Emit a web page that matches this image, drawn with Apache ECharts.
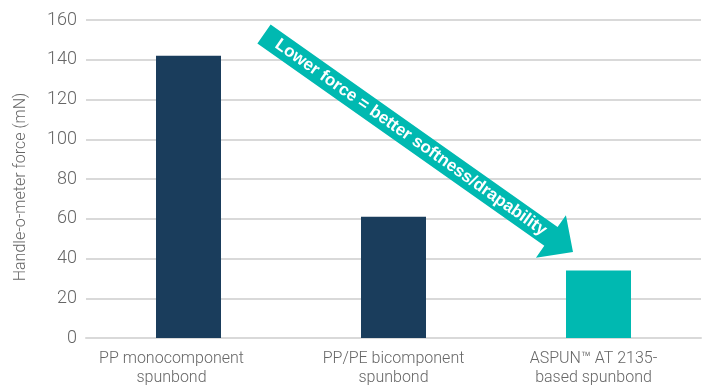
<!DOCTYPE html>
<html>
<head>
<meta charset="utf-8">
<script src="https://cdn.jsdelivr.net/npm/echarts@6/dist/echarts.min.js"></script>
<style>
html,body{margin:0;padding:0;background:#fff;}
#chart{width:710px;height:387px;}
</style>
</head>
<body>
<div id="chart"></div>
<script>
const categories = ['PP monocomponent\nspunbond', 'PP/PE bicomponent\nspunbond', 'ASPUN\u2122 AT 2135-\nbased spunbond'];
const values = [142, 61, 34];
const barColors = ['#1a3d5c', '#1a3d5c', '#00b9b1'];
const yTicks = [0, 20, 40, 60, 80, 100, 120, 140, 160];
const yTitle = 'Handle-o-meter force (mN)';
const arrowText = 'Lower force = better softness/drapability';
const labelPadRight = [34, 0, 10];

const chart = echarts.init(document.getElementById('chart'), null, {renderer: 'canvas'});
const font = 'Roboto, Liberation Sans, Arial, sans-serif';

// arrow annotation geometry
const S = [264, 34], T = [573, 252];
const dx = T[0]-S[0], dy = T[1]-S[1];
const L = Math.sqrt(dx*dx+dy*dy);
const u = [dx/L, dy/L], n = [-u[1], u[0]];
const bw = 11.5, hw = 26, hl = 27;
const B = [S[0]+u[0]*(L-hl), S[1]+u[1]*(L-hl)];
const pts = [
  [S[0]-n[0]*bw, S[1]-n[1]*bw],
  [B[0]-n[0]*bw, B[1]-n[1]*bw],
  [B[0]-n[0]*hw, B[1]-n[1]*hw],
  T,
  [B[0]+n[0]*hw, B[1]+n[1]*hw],
  [B[0]+n[0]*bw, B[1]+n[1]*bw],
  [S[0]+n[0]*bw, S[1]+n[1]*bw]
];
const mid = [S[0]+u[0]*((L-hl)/2+4), S[1]+u[1]*((L-hl)/2+4)];
const ang = Math.atan2(dy, dx);

chart.setOption({
  animation: false,
  grid: {left: 86, right: 9, top: 20, bottom: 49, containLabel: false},
  xAxis: {
    type: 'category',
    data: categories.map((c, i) => ({value: c, textStyle: {padding: [0, labelPadRight[i], 0, 0]}})),
    axisLine: {show: true, lineStyle: {color: '#d9d9d9', width: 2}},
    axisTick: {show: false},
    axisLabel: {color: '#666', fontFamily: font, fontWeight: 300, fontSize: 16, lineHeight: 19, margin: 11}
  },
  yAxis: {
    type: 'value',
    min: 0, max: 160, interval: 20,
    name: yTitle,
    nameLocation: 'middle',
    nameGap: 57,
    nameTextStyle: {color: '#666', fontFamily: font, fontWeight: 300, fontSize: 16, padding: [0, 16, 0, 0]},
    axisLine: {show: false},
    axisTick: {show: false},
    splitLine: {lineStyle: {color: '#d9d9d9', width: 2}},
    axisLabel: {color: '#666', fontFamily: font, fontWeight: 300, fontSize: 18, margin: 9,
      formatter: v => yTicks.includes(v) ? String(v) : ''}
  },
  series: [{
    type: 'bar',
    barWidth: 65,
    data: values.map((v, i) => ({value: v, itemStyle: {color: barColors[i]}}))
  }],
  graphic: [
    {type: 'polygon', shape: {points: pts}, style: {fill: '#00b9b1'}, z: 100},
    {type: 'text', x: mid[0], y: mid[1], rotation: -ang, z: 101,
      style: {text: arrowText, fill: '#fff', font: 'bold 17px Liberation Sans, Arial, sans-serif', align: 'center', verticalAlign: 'middle'}}
  ]
});
</script>
</body>
</html>
